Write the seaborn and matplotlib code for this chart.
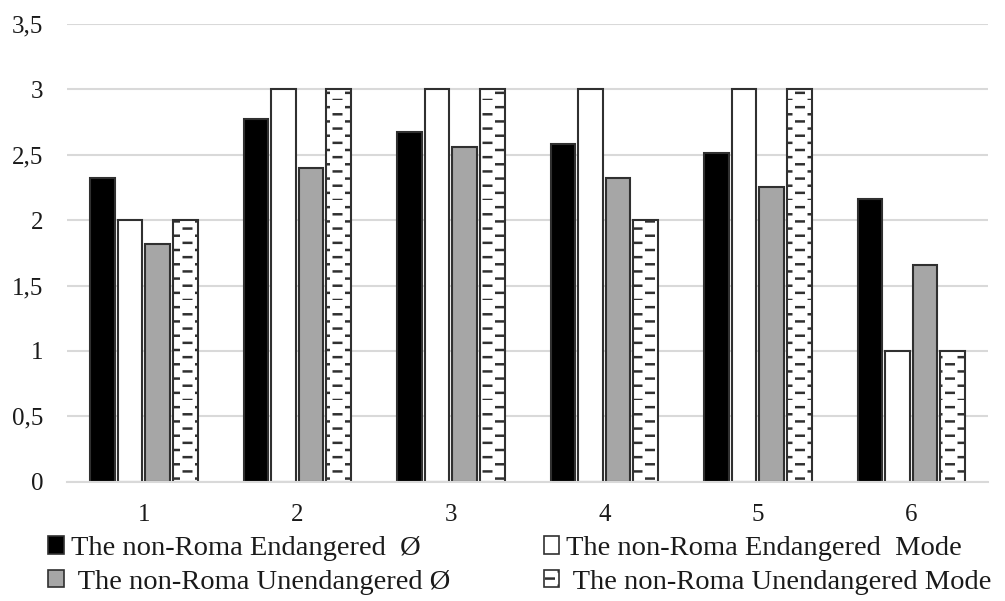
import warnings
import numpy as np
import pandas as pd
import matplotlib
matplotlib.use("Agg")
import matplotlib.pyplot as plt
import matplotlib.hatch as mhatch
from matplotlib.patches import Patch
from matplotlib.ticker import FuncFormatter, MultipleLocator
import seaborn as sns

warnings.filterwarnings("ignore")

# Data
categories = ["1", "2", "3", "4", "5", "6"]
endangered_mean = [2.32, 2.77, 2.67, 2.58, 2.51, 2.16]
endangered_mode = [2, 3, 3, 3, 3, 1]
unendangered_mean = [1.82, 2.40, 2.56, 2.32, 2.25, 1.66]
unendangered_mode = [2, 3, 3, 2, 3, 1]

series = [
    "The non-Roma Endangered  Ø",
    "The non-Roma Endangered  Mode",
    " The non-Roma Unendangered Ø",
    " The non-Roma Unendangered Mode",
]
colors = ["#000000", "#ffffff", "#a6a6a6", "#ffffff"]


# Staggered short-dash hatch (like the Excel "dashed horizontal" fill)
class DashHatch(mhatch.HatchPatternBase):
    def __init__(self, hatch, density):
        self.on = "_" in hatch
        self.rows = 14
        self.cols = 4
        n_dashes = (self.rows // 2) * self.cols + (self.rows // 2) * (self.cols + 1)
        self.num_vertices = n_dashes * 2 if self.on else 0

    def set_vertices_and_codes(self, vertices, codes):
        dash = 0.3 / self.cols
        segs = []
        for i in range(self.rows):
            y = i / self.rows
            if i % 2 == 0:
                centers = [(j + 0.5) / self.cols for j in range(self.cols)]
            else:
                centers = [j / self.cols for j in range(self.cols + 1)]
            for c in centers:
                segs.append((c - dash / 2, y))
                segs.append((c + dash / 2, y))
        vertices[:] = np.array(segs)
        codes[0::2] = mhatch.Path.MOVETO
        codes[1::2] = mhatch.Path.LINETO


mhatch._hatch_types.append(DashHatch)

sns.set_style("white")
plt.rcParams["font.family"] = ["Liberation Serif", "DejaVu Serif"]
plt.rcParams["hatch.linewidth"] = 1.8
plt.rcParams["hatch.color"] = "#303030"

df = pd.DataFrame({
    "item": categories * 4,
    "series": np.repeat(series, len(categories)),
    "value": endangered_mean + endangered_mode + unendangered_mean + unendangered_mode,
})

fig = plt.figure(figsize=(10.05, 6.01), dpi=100)
ax = fig.add_axes([0.0667, 0.1985, 0.9164, 0.7617])

sns.barplot(data=df, x="item", y="value", hue="series", hue_order=series,
            palette=dict(zip(series, colors)), width=0.72, gap=0.11,
            edgecolor="#303030", linewidth=1.5, errorbar=None,
            legend=False, ax=ax)

for bar in ax.containers[3]:
    bar.set_hatch("_")

ax.set_ylim(0, 3.5)
ax.yaxis.set_major_locator(MultipleLocator(0.5))
ax.yaxis.set_major_formatter(FuncFormatter(lambda v, p: f"{v:g}".replace(".", ",")))
ax.yaxis.grid(True, color="#d9d9d9", linewidth=1.5)
ax.set_axisbelow(True)
for s in ["top", "left", "right"]:
    ax.spines[s].set_visible(False)
ax.spines["bottom"].set_color("#d9d9d9")
ax.spines["bottom"].set_linewidth(1.5)
ax.set_xlabel("")
ax.set_ylabel("")
ax.tick_params(axis="y", length=0, pad=17, labelsize=18, labelcolor="#1a1a1a")
ax.tick_params(axis="x", length=0, pad=16, labelsize=18, labelcolor="#1a1a1a")

# Legend: two columns placed separately
handles = [Patch(facecolor=c, edgecolor="#303030", linewidth=1.2,
                 hatch="_" if i == 3 else None) for i, c in enumerate(colors)]
kw = dict(loc="upper left", frameon=False, fontsize=20.5, borderpad=0,
          borderaxespad=0, handlelength=0.55, handleheight=0.55,
          handletextpad=0.25, labelspacing=0.3, labelcolor="#1a1a1a")
fig.legend([handles[0], handles[2]], [series[0], series[2]],
           bbox_to_anchor=(0.048, 0.108), **kw)
fig.legend([handles[1], handles[3]], [series[1], series[3]],
           bbox_to_anchor=(0.541, 0.108), **kw)

fig.savefig("out.png", dpi=100)
